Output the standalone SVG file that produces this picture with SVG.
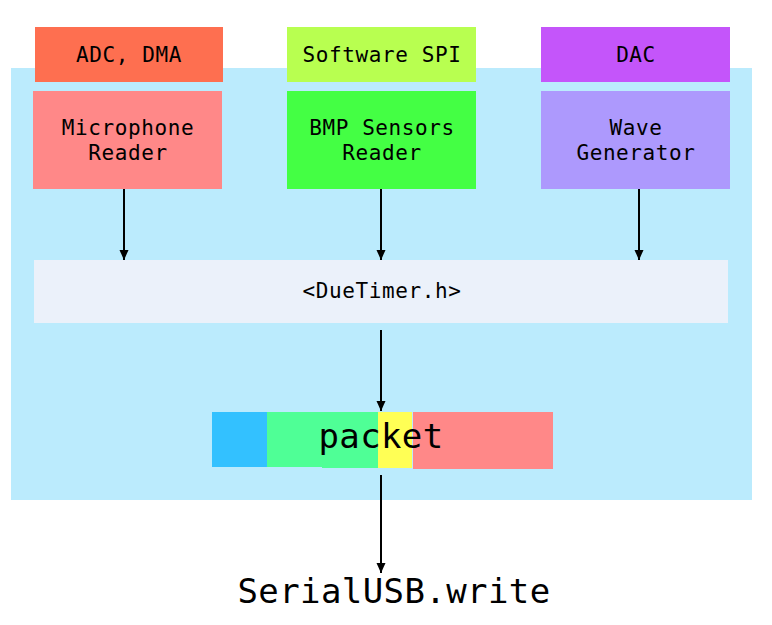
<svg xmlns="http://www.w3.org/2000/svg" width="772" height="625" viewBox="0 0 772 625">
<defs>
<style>
.t{font-family:"DejaVu Sans Mono","Liberation Mono",monospace;font-size:21px;letter-spacing:0.6px;fill:#000;text-anchor:middle}
.big{font-family:"DejaVu Sans Mono","Liberation Mono",monospace;font-size:34px;letter-spacing:0.4px;fill:#000;text-anchor:middle}
.c{stroke:#000;stroke-width:2;fill:none;marker-end:url(#ah)}
</style>
<marker id="ah" markerWidth="10" markerHeight="12" refX="10" refY="5" orient="auto" markerUnits="userSpaceOnUse">
<path d="M0,0.5 L10,5 L0,9.5 Z" fill="#000"/>
</marker>
</defs>
<rect width="772" height="625" fill="#fff"/>
<rect id="bg" x="11" y="68" width="741" height="432" fill="#BBEBFD"/>
<g id="adc"><rect x="35" y="27" width="188" height="55" fill="#FE6F50"/><text class="t" x="129" y="62">ADC, DMA</text></g>
<g id="spi"><rect x="287" y="27" width="189" height="55" fill="#B8FF50"/><text class="t" x="382" y="62">Software SPI</text></g>
<g id="dac"><rect x="541" y="27" width="189" height="55" fill="#C455FA"/><text class="t" x="636" y="62">DAC</text></g>
<g id="mic"><rect x="33" y="91" width="189" height="98" fill="#FF8888"/><text class="t" x="128" y="135">Microphone</text><text class="t" x="128" y="160">Reader</text></g>
<g id="bmp"><rect x="287" y="91" width="189" height="98" fill="#44FF44"/><text class="t" x="382" y="135">BMP Sensors</text><text class="t" x="382" y="160">Reader</text></g>
<g id="wave"><rect x="541" y="91" width="189" height="98" fill="#AD99FD"/><text class="t" x="636" y="135">Wave</text><text class="t" x="636" y="160">Generator</text></g>
<g id="duetimer"><rect x="34" y="260" width="694" height="63" fill="#EBF1FA"/><text class="t" x="382" y="298">&lt;DueTimer.h&gt;</text></g>
<g id="packet">
<rect x="212" y="412" width="55" height="55" fill="#33C1FF"/>
<rect x="267" y="412" width="111" height="55" fill="#4FFF96"/>
<rect x="322" y="412" width="56" height="56" fill="#4FFF96"/>
<rect x="378" y="412" width="34" height="56" fill="#FFFF55"/>
<rect x="413" y="412" width="140" height="57" fill="#FF8888"/>
<text class="big" x="381" y="448">packet</text>
</g>
<g id="serial"><text class="big" x="394" y="603">SerialUSB.write</text></g>
<g id="connectors">
<line class="c" x1="124" y1="189" x2="124" y2="260"/>
<line class="c" x1="381" y1="189" x2="381" y2="260"/>
<line class="c" x1="639" y1="189" x2="639" y2="260"/>
<line class="c" x1="381" y1="330" x2="381" y2="411"/>
<line class="c" x1="381" y1="475" x2="381" y2="573"/>
</g>
</svg>
